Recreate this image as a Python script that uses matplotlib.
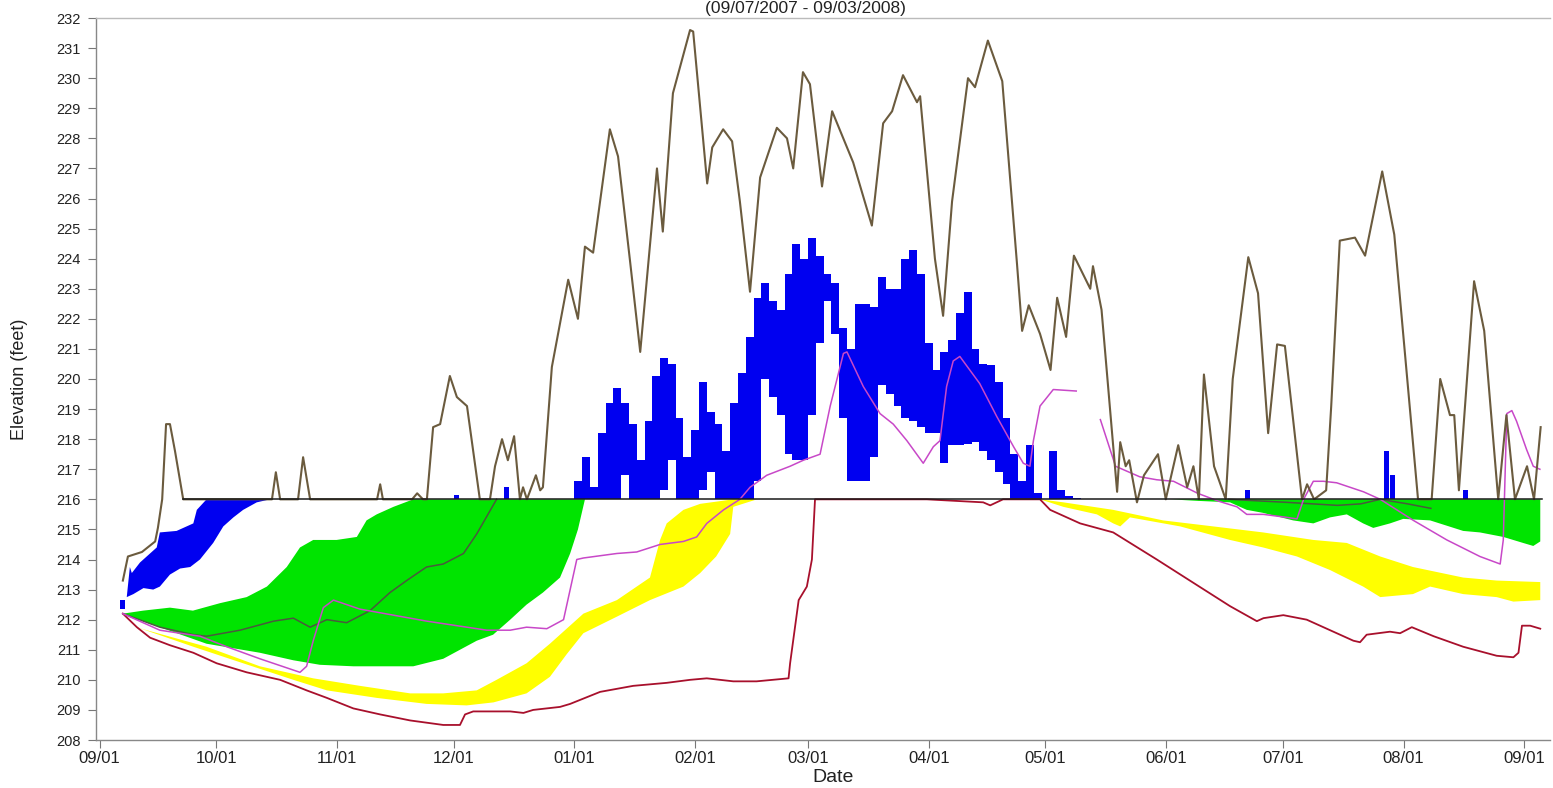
import matplotlib
matplotlib.use('Agg')
import matplotlib.pyplot as plt
import matplotlib.dates as mdates
import numpy as np
from datetime import datetime

plt.rcParams['font.family'] = ['Liberation Sans', 'DejaVu Sans']

BASE = datetime(2007, 9, 1)   # x values below are days after this date

# ---------------- data ----------------
brown_day = [6.0, 7.3, 10.9, 14.3, 15.0, 16.1, 17.1, 18.1, 19.4, 21.5, 44.3, 45.3, 46.4, 51.0, 52.3, 54.1,
             71.3, 72.1, 72.8, 80.3, 81.6, 83.1, 84.1, 85.7, 87.5, 90.0, 91.8, 94.4, 97.7, 100.3, 101.6,
             103.4, 104.9, 106.5, 108.0, 108.8, 109.8, 112.1, 113.2, 113.9, 116.2, 120.4, 122.9, 124.7,
             126.8, 131.1, 133.2, 136.3, 138.9, 143.2, 144.7, 147.3, 151.7, 152.5, 156.1, 157.4, 160.2,
             162.5, 164.5, 167.1, 169.7, 174.0, 176.6, 178.2, 180.7, 182.5, 185.6, 188.2, 193.6, 198.4,
             201.3, 203.6, 206.4, 210.0, 210.8, 214.6, 216.7, 219.0, 223.1, 224.9, 228.2, 231.9, 235.7,
             237.0, 238.7, 241.6, 244.3, 246.0, 248.3, 250.3, 254.5, 255.2, 257.4, 261.4, 262.2, 263.6,
             264.5, 266.5, 268.3, 271.9, 273.9, 277.1, 279.4, 281.0, 282.4, 283.7, 286.3, 289.3, 291.1,
             295.1, 297.6, 300.2, 302.5, 304.5, 308.9, 310.2, 312.0, 315.1, 316.4, 318.6, 322.5, 325.1,
             329.5, 332.6, 338.7, 342.2, 344.4, 346.9, 348.0, 349.2, 353.1, 355.7, 359.3, 361.4, 363.6,
             366.7, 368.5, 370.2]
brown_elev = [213.3, 214.1, 214.25, 214.6, 215.05, 216.0, 218.5, 218.5, 217.6, 216.0, 216.0, 216.9, 216.0,
              216.0, 217.4, 216.0, 216.0, 216.5, 216.0, 216.0, 216.2, 216.0, 216.0, 218.4, 218.5, 220.1,
              219.4, 219.1, 216.0, 216.0, 217.1, 218.0, 217.3, 218.1, 216.0, 216.4, 216.0, 216.8, 216.3,
              216.4, 220.4, 223.3, 222.0, 224.4, 224.2, 228.3, 227.4, 223.9, 220.9, 227.0, 224.9, 229.5,
              231.6, 231.55, 226.5, 227.7, 228.3, 227.9, 225.9, 222.9, 226.7, 228.35, 228.0, 227.0, 230.2,
              229.8, 226.4, 228.9, 227.2, 225.1, 228.5, 228.9, 230.1, 229.2, 229.4, 224.0, 222.1, 225.9,
              230.0, 229.7, 231.25, 229.9, 223.8, 221.6, 222.45, 221.5, 220.3, 222.7, 221.4, 224.1, 223.0,
              223.75, 222.3, 216.25, 217.9, 217.1, 217.3, 215.9, 216.8, 217.5, 216.0, 217.8, 216.4, 217.1,
              216.0, 220.15, 217.1, 216.0, 220.0, 224.05, 222.85, 218.2, 221.15, 221.1, 216.0, 216.5,
              216.0, 216.3, 219.1, 224.6, 224.7, 224.1, 226.9, 224.8, 216.0, 216.0, 220.0, 218.8, 218.8,
              216.3, 223.25, 221.6, 216.0, 218.8, 216.0, 217.1, 216.0, 218.4]

red_day = [6.0, 9.6, 13.0, 18.1, 24.1, 30.1, 37.8, 46.4, 53.2, 58.4, 65.2, 72.1, 79.8, 88.3, 92.6, 93.9,
           96.0, 105.5, 108.9, 111.4, 118.3, 120.9, 128.6, 137.1, 145.7, 151.7, 156.0, 162.8, 168.8,
           177.0, 177.4, 179.6, 181.7, 183.0, 183.8, 198.7, 212.5, 227.0, 228.8, 232.1, 241.6, 244.2,
           251.9, 260.4, 271.6, 281.9, 290.4, 297.3, 299.0, 304.1, 310.1, 316.1, 322.1, 323.8, 325.5,
           331.5, 334.1, 337.1, 342.7, 350.3, 358.9, 363.2, 364.5, 365.4, 367.5, 370.1]
red_elev = [212.2, 211.75, 211.4, 211.15, 210.9, 210.55, 210.25, 210.0, 209.65, 209.4, 209.05, 208.85,
            208.65, 208.5, 208.5, 208.85, 208.95, 208.95, 208.9, 209.0, 209.1, 209.2, 209.6, 209.8, 209.9,
            210.0, 210.05, 209.95, 209.95, 210.05, 210.55, 212.65, 213.1, 214.0, 216.0, 216.0, 216.0,
            215.9, 215.8, 216.0, 216.0, 215.65, 215.2, 214.9, 214.0, 213.15, 212.45, 211.95, 212.05,
            212.15, 212.0, 211.65, 211.3, 211.25, 211.5, 211.6, 211.55, 211.75, 211.45, 211.1, 210.8,
            210.75, 210.9, 211.8, 211.8, 211.7]

magenta_day = [6.0, 15.5, 25.8, 32.7, 41.2, 51.5, 53.2, 54.9, 57.5, 60.1, 66.9, 75.5, 84.1, 99.5, 105.5,
               109.7, 114.9, 119.2, 122.6, 124.3, 132.9, 138.0, 144.0, 150.0, 153.4, 156.0, 160.3, 164.5,
               167.1, 171.4, 177.4, 180.8, 185.1, 187.7, 191.1, 192.0, 196.2, 200.5, 203.9, 207.4, 211.6,
               214.2, 215.9, 217.6, 219.3, 221.0, 226.1, 230.5, 234.8, 237.3, 239.0, 239.9, 241.6, 245.0,
               250.9, np.nan, 257.1, 261.0, 267.2, 271.6, 275.9, 282.1, 287.2, 292.2, 294.7, 299.0, 305.0,
               307.6, 309.3, 311.8, 314.4, 317.8, 324.7, 329.0, 337.5, 346.1, 354.6, 359.8, 360.6, 361.5,
               362.8, 364.0, 366.6, 368.3, 370.0]
magenta_elev = [212.2, 211.65, 211.45, 211.1, 210.7, 210.25, 210.45, 211.3, 212.4, 212.65, 212.35, 212.15,
                211.95, 211.65, 211.65, 211.75, 211.7, 212.0, 214.0, 214.05, 214.2, 214.25, 214.5, 214.6,
                214.75, 215.2, 215.65, 216.0, 216.4, 216.8, 217.1, 217.3, 217.5, 219.1, 220.85, 220.9,
                219.75, 218.85, 218.5, 217.95, 217.2, 217.75, 217.95, 219.75, 220.6, 220.75, 219.85,
                218.75, 217.75, 217.2, 217.1, 217.95, 219.1, 219.65, 219.6, np.nan, 218.65, 217.1, 216.75,
                216.65, 216.6, 216.2, 215.95, 215.75, 215.5, 215.5, 215.4, 215.35, 216.0, 216.6, 216.6,
                216.55, 216.25, 216.0, 215.3, 214.65, 214.1, 213.85, 214.65, 218.85, 218.95, 218.6, 217.65,
                217.1, 217.0]

olive_day = [6.0, 15.5, 24.1, 27.5, 36.1, 44.7, 49.8, 54.1, 58.4, 63.5, 69.5, 74.6, 78.9, 84.0, 88.3,
             93.5, 96.9, 102.0, 290.0, 305.0, 318.0, 324.0, 329.0, 336.0, 342.0]
olive_elev = [212.2, 211.75, 211.5, 211.45, 211.65, 211.95, 212.05, 211.75, 212.0, 211.9, 212.3, 212.9,
              213.3, 213.75, 213.85, 214.2, 214.85, 216.0, 216.0, 215.9, 215.8, 215.85, 216.0, 215.85,
              215.7]

# green band, Sep-Jan (upper edge left->right, lower edge left->right)
green1_up_day = [6.0, 11.2, 18.1, 24.0, 31.0, 37.8, 43.0, 48.1, 51.5, 54.9, 60.9, 66.1, 68.6, 71.2, 75.5,
                 80.6, 124.7]
green1_up = [212.2, 212.3, 212.4, 212.3, 212.55, 212.75, 213.1, 213.75, 214.4, 214.65, 214.65, 214.75,
             215.3, 215.5, 215.75, 216.0, 216.0]
green1_lo_day = [6.0, 15.5, 27.5, 41.2, 49.8, 56.6, 65.2, 80.6, 88.3, 96.9, 101.1, 105.5, 109.7, 113.9,
                 118.3, 120.9, 122.9, 124.7]
green1_lo = [212.2, 211.75, 211.2, 210.9, 210.65, 210.5, 210.45, 210.45, 210.7, 211.3, 211.5, 212.0,
             212.5, 212.9, 213.4, 214.2, 215.0, 216.0]

# green band, Jun-Sep
green2_up_day = [275.0, 370.1]
green2_up = [216.0, 216.0]
green2_lo_day = [275.0, 281.9, 290.4, 294.7, 298.9, 306.6, 311.8, 316.1, 320.4, 324.6, 327.2, 331.5, 334.9,
                 341.8, 350.3, 354.6, 360.6, 365.7, 368.3, 370.1]
green2_lo = [216.0, 215.95, 215.9, 215.65, 215.55, 215.3, 215.2, 215.4, 215.5, 215.2, 215.05, 215.2,
             215.35, 215.3, 214.95, 214.9, 214.75, 214.55, 214.45, 214.6]

# yellow band, Sep-Feb
yellow1_up_day = [9.6, 12.1, 27.5, 41.2, 54.9, 66.9, 79.8, 88.3, 96.9, 102.0, 109.7, 115.7, 124.3, 132.9,
                  141.4, 144.0, 145.7, 150.0, 154.3, 162.8, 168.9]
yellow1_up = [211.75, 211.65, 211.1, 210.45, 210.05, 209.8, 209.55, 209.55, 209.65, 210.0, 210.55, 211.2,
              212.2, 212.65, 213.4, 214.65, 215.2, 215.65, 215.85, 216.0, 216.0]
yellow1_lo_day = [9.6, 24.1, 36.9, 49.8, 58.4, 71.2, 84.0, 94.3, 101.2, 109.7, 115.7, 120.0, 124.3, 132.9,
                  141.4, 150.0, 154.3, 158.4, 162.0, 162.8, 168.9]
yellow1_lo = [211.75, 211.1, 210.55, 210.0, 209.65, 209.4, 209.2, 209.15, 209.25, 209.55, 210.1, 210.85,
              211.55, 212.1, 212.65, 213.1, 213.55, 214.1, 214.85, 215.75, 216.0]

# yellow band, May-Sep
yellow2_up_day = [241.6, 247.6, 260.4, 273.2, 286.1, 298.9, 311.8, 320.4, 329.0, 337.4, 350.3, 358.9, 370.1]
yellow2_up = [216.0, 215.9, 215.65, 215.3, 215.1, 214.9, 214.65, 214.55, 214.1, 213.75, 213.4, 213.3,
              213.25]
yellow2_lo_day = [241.6, 247.6, 256.2, 260.4, 262.2, 264.7, 277.6, 290.4, 298.9, 307.6, 316.1, 324.6,
                  329.0, 337.4, 341.8, 350.3, 358.9, 363.2, 370.1]
yellow2_lo = [216.0, 215.75, 215.5, 215.2, 215.1, 215.4, 215.1, 214.65, 214.4, 214.1, 213.65, 213.1,
              212.75, 212.85, 213.1, 212.85, 212.75, 212.6, 212.65]

# blue band below 216, September
blue1_up_day = [7.0, 7.8, 8.3, 10.4, 14.7, 15.5, 19.8, 24.1, 25.0, 27.5, 43.8]
blue1_up = [212.75, 213.75, 213.55, 213.9, 214.4, 214.9, 214.95, 215.2, 215.65, 216.0, 216.0]
blue1_lo_day = [7.0, 8.7, 11.3, 13.8, 15.5, 18.1, 20.7, 23.3, 25.8, 29.2, 31.8, 34.4, 36.9, 40.4, 43.8]
blue1_lo = [212.75, 212.85, 213.05, 213.0, 213.1, 213.5, 213.7, 213.75, 214.0, 214.55, 215.1, 215.4,
            215.65, 215.9, 216.0]

# blue band above 216, Dec-May (every 2 days)
blue2_day = [119, 121, 123, 125, 127, 129, 131, 133, 135, 137, 139, 141, 143, 145, 147, 149, 151, 153, 155,
             157, 159, 161, 163, 165, 167, 169, 171, 173, 175, 177, 179, 181, 183, 185, 187, 189, 191, 193,
             195, 197, 199, 201, 203, 205, 207, 209, 211, 213, 215, 217, 219, 221, 223, 225, 227, 229, 231,
             233, 235, 237, 239, 241, 243, 245, 247, 249, 251, 253]
blue2_up = [216.0, 216.0, 216.6, 217.4, 216.4, 218.2, 219.2, 219.7, 219.2, 218.5, 217.3, 218.6, 220.1, 220.7,
            220.5, 218.7, 217.4, 218.3, 219.9, 218.9, 218.5, 217.6, 219.2, 220.2, 221.4, 222.7, 223.2, 222.6,
            222.3, 223.5, 224.5, 224.0, 224.7, 224.1, 223.5, 223.2, 221.7, 221.0, 222.5, 222.5, 222.4, 223.4,
            223.0, 223.0, 224.0, 224.3, 223.5, 221.2, 220.3, 220.9, 221.3, 222.2, 222.9, 221.0, 220.5, 220.45,
            219.9, 218.7, 217.5, 216.6, 217.8, 216.2, 216.0, 217.6, 216.3, 216.1, 216.05, 216.0]
blue2_lo = [216.0, 216.0, 216.0, 216.0, 216.0, 216.0, 216.0, 216.0, 216.8, 216.0, 216.0, 216.0, 216.0, 216.3,
            217.3, 216.0, 216.0, 216.0, 216.3, 216.9, 216.0, 216.0, 216.0, 216.0, 216.0, 216.6, 220.0, 219.4,
            218.8, 217.5, 217.3, 217.3, 218.8, 221.2, 222.6, 221.5, 218.7, 216.6, 216.6, 216.6, 217.4, 219.8,
            219.5, 219.1, 218.7, 218.6, 218.4, 218.2, 218.2, 217.2, 217.8, 217.8, 217.85, 217.9, 217.6, 217.3,
            216.9, 216.5, 216.0, 216.0, 216.0, 216.0, 216.0, 216.0, 216.0, 216.0, 216.0, 216.0]

# isolated blue spikes
spike_day = [6.0, 91.6, 104.5, 295.0, 330.7, 332.2, 351.0]
spike_lo = [212.35, 216.0, 216.0, 216.0, 216.0, 216.0, 216.0]
spike_hi = [212.65, 216.15, 216.4, 216.3, 217.6, 216.8, 216.3]

line216_day = [21.5, 370.5]
line216_elev = [216.0, 216.0]

# ---------------- drawing ----------------
B = mdates.date2num(BASE)
def X(d):
    return B + np.asarray(d, dtype=float)

W, H = 1553, 788
fig = plt.figure(figsize=(W / 100, H / 100), dpi=100)
ax = fig.add_axes([96 / W, 1 - 740 / H, (1550 - 96) / W, (740 - 18) / H])

BLUE = '#0000f0'
GREEN = '#00e400'
YELLOW = '#ffff00'

def band(up_d, up_v, lo_d, lo_v, color):
    xs = np.concatenate([X(up_d), X(lo_d)[::-1]])
    ys = np.concatenate([np.asarray(up_v), np.asarray(lo_v)[::-1]])
    ax.fill(xs, ys, color=color, linewidth=0, zorder=1)

band(green1_up_day, green1_up, green1_lo_day, green1_lo, GREEN)
band(green2_up_day, green2_up, green2_lo_day, green2_lo, GREEN)
band(yellow1_up_day, yellow1_up, yellow1_lo_day, yellow1_lo, YELLOW)
band(yellow2_up_day, yellow2_up, yellow2_lo_day, yellow2_lo, YELLOW)
band(blue1_up_day, blue1_up, blue1_lo_day, blue1_lo, BLUE)
ax.fill_between(X(blue2_day), blue2_lo, blue2_up, step='mid', color=BLUE, linewidth=0, zorder=2)
ax.bar(X(spike_day), np.array(spike_hi) - np.array(spike_lo), bottom=spike_lo, width=1.3,
       color=BLUE, linewidth=0, zorder=2)

ax.plot(X(olive_day[:18]), olive_elev[:18], color='#4a5a3e', lw=1.1, zorder=3)
ax.plot(X(olive_day[18:]), olive_elev[18:], color='#4a5a3e', lw=1.1, zorder=3)
ax.plot(X(red_day), red_elev, color='#a8102c', lw=1.3, zorder=4)
ax.plot(X(magenta_day), magenta_elev, color='#c848c8', lw=1.1, zorder=4)
ax.plot(X(brown_day), brown_elev, color='#6b5b3e', lw=1.5, zorder=5)
ax.plot(X(line216_day), line216_elev, color='#1a1a1a', lw=1.1, zorder=6)

ax.set_ylim(208, 232)
ax.set_xlim(B - 0.9, B + 372.6)
ax.set_yticks(range(208, 233))
ax.xaxis.set_major_locator(mdates.MonthLocator(bymonthday=1))
ax.xaxis.set_major_formatter(mdates.DateFormatter('%m/%d'))
ax.tick_params(axis='both', length=6, width=0.8, color='#777777', labelcolor='#222222')
ax.tick_params(axis='x', labelsize=12, pad=2)
ax.tick_params(axis='y', labelsize=10.5, pad=5)

for s in ['left', 'bottom']:
    ax.spines[s].set_color('#888888')
    ax.spines[s].set_linewidth(1.0)
ax.spines['top'].set_color('#bbbbbb')
ax.spines['top'].set_linewidth(1.0)
ax.spines['right'].set_visible(False)

fig.text(20 / W, 1 - 379 / H, 'Elevation (feet)', rotation=90, ha='center', va='center',
         fontsize=13, color='#222222')
fig.text(833 / W, 1 - 777 / H, 'Date', ha='center', va='center', fontsize=14, color='#222222')
fig.text(805 / W, 1 - 8 / H, '(09/07/2007 - 09/03/2008)', ha='center', va='center', fontsize=12.5,
         color='#222222')

fig.savefig('out.png', dpi=100)
